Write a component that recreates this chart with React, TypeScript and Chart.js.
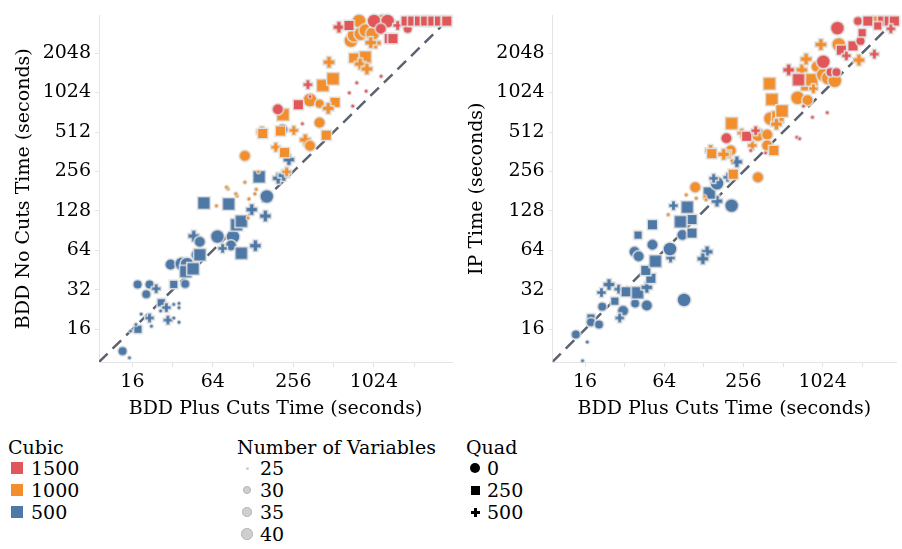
import React, { useEffect, useRef } from 'react';
import { Chart, registerables } from 'chart.js';

Chart.register(...registerables);

const FONT_FAMILY = '"DejaVu Serif", "Liberation Serif", serif';
const TEXT_COLOR = '#000';
const AXIS_COLOR = '#e4e4e4';
const HALO_COLOR = '#e0e0e0';

const CUBIC_LEVELS = [1500, 1000, 500];
const CUBIC_COLORS = ['#E15759', '#F28E2B', '#4E79A7'];
const QUAD_LEVELS = [0, 250, 500];
const VAR_LEVELS = [25, 30, 35, 40];

const X_TICKS = [16, 32, 64, 128, 256, 512, 1024, 2048];
const X_LABELS = [16, 64, 256, 1024];
const Y_TICKS = [16, 32, 64, 128, 256, 512, 1024, 2048];
const TIMEOUT = 3600;

// [cubic, quad, numVars, bddPlusCutsTime, bddNoCutsTime]
const noCutsPoints: number[][] = [
  [500, 0, 30, 13.5, 10.9], [500, 0, 25, 15.2, 9.7], [500, 250, 30, 17.6, 16], [500, 0, 25, 15.5, 15.5],
  [500, 0, 25, 17, 17.4], [500, 500, 30, 21.5, 19.5], [500, 0, 25, 22.2, 16.9], [500, 0, 25, 18.6, 20.9],
  [500, 250, 30, 26.3, 25.5], [500, 500, 30, 28.7, 23.4], [500, 0, 25, 32.6, 24.8], [500, 0, 25, 35.7, 25.2],
  [500, 0, 25, 35.7, 23.4], [500, 0, 25, 26, 22.1], [500, 500, 30, 29.5, 18.8], [500, 0, 25, 32.6, 19.5],
  [500, 0, 25, 35.7, 18.1], [500, 0, 30, 17.5, 35.2], [500, 0, 30, 21.5, 35.2], [500, 500, 30, 24.1, 32.6],
  [500, 0, 30, 20.3, 29.6], [500, 250, 30, 32.6, 35.2], [500, 0, 30, 39.7, 35.5], [500, 0, 35, 30.9, 49.9],
  [500, 0, 40, 37.4, 50.5], [500, 0, 40, 41, 50.2], [500, 250, 40, 40.1, 44.1], [500, 250, 40, 45.5, 46.3],
  [500, 0, 35, 48.3, 59.2], [500, 250, 40, 51.1, 59.2], [500, 500, 35, 46, 82.3], [500, 0, 35, 51.1, 74.4],
  [500, 0, 40, 69.2, 81.6], [500, 0, 40, 90.5, 81.2], [500, 0, 35, 87.4, 69.8], [500, 500, 30, 75.7, 66.3],
  [500, 250, 40, 104.5, 60.8], [500, 500, 35, 133, 69.4], [500, 250, 40, 96.2, 100.4], [500, 250, 40, 104.5, 106.7],
  [500, 500, 35, 125, 131], [500, 500, 35, 158, 117], [500, 0, 40, 162, 165], [500, 250, 40, 54.8, 147],
  [500, 250, 40, 84, 144.5], [500, 250, 40, 142, 233], [500, 500, 35, 197, 227], [500, 500, 35, 217, 239],
  [500, 500, 35, 237, 315], [500, 0, 35, 212, 535],
  [1000, 0, 35, 111, 337], [1000, 500, 35, 149, 512], [1000, 250, 35, 151, 499], [1000, 250, 35, 205, 521],
  [1000, 500, 30, 258, 527], [1000, 250, 40, 214, 695], [1000, 0, 40, 341, 898], [1000, 0, 30, 402, 842],
  [1000, 250, 35, 525, 861], [1000, 500, 35, 467, 776], [1000, 0, 35, 402, 604], [1000, 250, 35, 451, 484],
  [1000, 500, 35, 314, 446], [1000, 0, 35, 341, 402], [1000, 500, 30, 189, 392], [1000, 250, 35, 220, 357],
  [1000, 500, 30, 228, 254], [1000, 250, 40, 425, 1160], [1000, 250, 40, 507, 1305], [1000, 500, 35, 473, 1746],
  [1000, 500, 35, 763, 1871], [1000, 250, 40, 882, 1905], [1000, 250, 35, 724, 1878], [1000, 500, 35, 809, 1693],
  [1000, 500, 35, 909, 1552], [1000, 500, 35, 1051, 2448], [1000, 0, 40, 691, 2548], [1000, 0, 40, 794, 3600],
  [1000, 0, 40, 728, 2797], [1000, 0, 40, 818, 2881], [1000, 0, 40, 891, 3050], [1000, 0, 40, 1001, 2881],
  [1000, 0, 40, 1191, 3600], [1000, 500, 35, 972, 2465], [1000, 250, 35, 2597, 3600],
  [1000, 0, 25, 140, 254], [1000, 0, 25, 111, 212], [1000, 0, 25, 83, 189], [1000, 0, 25, 97, 167],
  [1000, 0, 25, 68, 140], [1000, 0, 25, 81, 194], [1000, 0, 25, 95, 173], [1000, 0, 25, 119, 158],
  [1000, 0, 25, 135, 187], [1000, 0, 25, 132, 173], [1000, 0, 25, 117, 113],
  [1500, 0, 35, 196, 763], [1500, 250, 35, 279, 827], [1500, 500, 30, 329, 1176], [1500, 0, 25, 299, 593],
  [1500, 500, 25, 341, 955], [1500, 0, 25, 712, 808], [1500, 0, 25, 671, 1020], [1500, 0, 25, 763, 1218],
  [1500, 0, 25, 897, 1051], [1500, 0, 25, 1160, 1365], [1500, 500, 35, 561, 3230], [1500, 250, 35, 667, 3327],
  [1500, 0, 40, 1029, 3600], [1500, 0, 40, 1298, 3600], [1500, 0, 35, 1156, 3142], [1500, 250, 35, 1335, 2643],
  [1500, 250, 35, 1423, 2643], [1500, 500, 30, 1544, 3327], [1500, 0, 30, 1836, 3142], [1500, 250, 35, 1783, 3600],
  [1500, 250, 35, 2002, 3600], [1500, 250, 35, 2245, 3600], [1500, 250, 35, 2500, 3600], [1500, 250, 35, 2831, 3600],
  [1500, 250, 35, 3174, 3600], [1500, 250, 35, 3565, 3600], [1500, 250, 35, 3600, 3600],
];

// [cubic, quad, numVars, bddPlusCutsTime, ipTime]
const ipPoints: number[][] = [
  [500, 0, 30, 13.6, 14.6], [500, 0, 25, 16.6, 12.8], [500, 0, 25, 15.3, 9.2], [500, 250, 30, 17.7, 19.5],
  [500, 0, 30, 17.7, 18.1], [500, 0, 30, 20.4, 17.4], [500, 0, 30, 21.6, 23.8], [500, 250, 30, 26.9, 26.2],
  [500, 500, 30, 21.3, 30.5], [500, 500, 35, 24.3, 35.1], [500, 500, 30, 28.8, 32.4], [500, 250, 35, 32.8, 30.9],
  [500, 0, 35, 31.1, 22.1], [500, 0, 30, 38.4, 25.2], [500, 0, 35, 47.1, 24.3], [500, 250, 40, 40.1, 30.4],
  [500, 500, 35, 47.1, 33.4], [500, 250, 35, 50.6, 39.2], [500, 250, 35, 46.3, 45], [500, 250, 40, 54.8, 52.9],
  [500, 500, 30, 71.4, 56], [500, 0, 35, 38, 62.4], [500, 0, 35, 40.8, 57.7], [500, 0, 35, 52, 70.7],
  [500, 0, 40, 70.7, 65.5], [500, 250, 30, 40.4, 83.7], [500, 250, 35, 52, 100.4], [500, 0, 35, 87.9, 84],
  [500, 250, 35, 104, 86.7], [500, 250, 35, 104, 110], [500, 250, 40, 84.9, 105.8], [500, 250, 40, 95.8, 136.7],
  [500, 500, 30, 75.2, 140.3], [500, 500, 35, 135.5, 62.4], [500, 500, 35, 125.8, 55.2], [500, 0, 40, 90.5, 26.8],
  [500, 0, 40, 208, 140.3], [500, 500, 35, 161, 152], [500, 250, 40, 141, 175], [500, 0, 40, 161, 208],
  [500, 500, 30, 152, 227], [500, 500, 30, 194, 231], [500, 500, 35, 228, 303], [500, 500, 30, 29.3, 19.5],
  [1000, 250, 35, 214, 244], [1000, 0, 35, 330, 231], [1000, 0, 35, 110, 194], [1000, 0, 25, 94, 170],
  [1000, 0, 25, 112, 160], [1000, 0, 25, 130, 165], [1000, 0, 25, 133, 156], [1000, 0, 25, 68.6, 120],
  [1000, 0, 25, 209, 311], [1000, 500, 35, 144, 370], [1000, 250, 35, 147, 350], [1000, 0, 35, 205, 370],
  [1000, 250, 30, 192, 346], [1000, 500, 35, 181, 346], [1000, 250, 40, 208, 595], [1000, 500, 30, 249, 503],
  [1000, 0, 40, 330, 489], [1000, 0, 35, 388, 489], [1000, 500, 30, 299, 404], [1000, 0, 35, 388, 404],
  [1000, 250, 35, 436, 370], [1000, 250, 40, 404, 1197], [1000, 250, 40, 421, 907], [1000, 0, 40, 411, 649],
  [1000, 250, 40, 467, 667], [1000, 250, 40, 503, 741], [1000, 500, 35, 456, 588], [1000, 0, 40, 661, 934],
  [1000, 0, 35, 786, 896], [1000, 500, 35, 712, 1525], [1000, 500, 35, 767, 1846], [1000, 250, 40, 776, 1176],
  [1000, 250, 40, 846, 1283], [1000, 500, 30, 872, 1097], [1000, 0, 35, 923, 1615], [1000, 0, 40, 1036, 1399],
  [1000, 0, 40, 1130, 1321], [1000, 0, 40, 1268, 1261], [1000, 500, 35, 994, 2381], [1000, 0, 40, 1359, 2381],
  [1000, 500, 35, 1934, 1814], [1000, 250, 35, 2643, 3600],
  [1500, 0, 35, 190, 459], [1500, 250, 35, 271, 475], [1500, 500, 30, 317, 524], [1500, 0, 25, 291, 370],
  [1500, 0, 25, 377, 356], [1500, 0, 25, 652, 467], [1500, 0, 25, 684, 456], [1500, 0, 25, 733, 808],
  [1500, 0, 25, 857, 664], [1500, 0, 25, 1111, 720], [1500, 250, 40, 672, 1283], [1500, 500, 35, 565, 1525],
  [1500, 0, 40, 1036, 1761], [1500, 0, 30, 1176, 1466], [1500, 0, 30, 1305, 1466], [1500, 0, 40, 1328, 3174],
  [1500, 250, 35, 1423, 2157], [1500, 500, 30, 1552, 1954], [1500, 250, 35, 1743, 2324], [1500, 0, 30, 1988, 2535],
  [1500, 250, 30, 2048, 2932], [1500, 500, 30, 2535, 2013], [1500, 0, 30, 1901, 3600], [1500, 250, 35, 2261, 3600],
  [1500, 250, 35, 2932, 3600], [1500, 250, 35, 3287, 3600], [1500, 250, 35, 3600, 3600], [1500, 250, 30, 2689, 3305],
  [1500, 500, 30, 3385, 3142],
];

const SIZE_PX: Record<number, number> = { 25: 3, 30: 8, 35: 10, 40: 12.5 };

const markerCache = new Map<string, HTMLCanvasElement>();
function marker(color: string, quad: number, vars: number): HTMLCanvasElement {
  const key = color + '|' + quad + '|' + vars;
  const hit = markerCache.get(key);
  if (hit) return hit;
  const d = SIZE_PX[vars];
  const halo = vars === 25 ? 1 : 1.5;
  const size = Math.ceil(d * 1.2 + 2 * halo + 2);
  const c = document.createElement('canvas');
  c.width = size;
  c.height = size;
  const ctx = c.getContext('2d')!;
  const m = size / 2;
  const shape = (ext: number, fill: string) => {
    ctx.fillStyle = fill;
    ctx.beginPath();
    if (quad === 0 || vars === 25) {
      ctx.arc(m, m, d / 2 + ext, 0, Math.PI * 2);
    } else if (quad === 250) {
      const h = (d * 0.9) / 2 + ext;
      ctx.rect(m - h, m - h, 2 * h, 2 * h);
    } else {
      const L = d * 0.52 + ext;
      const t = d * 0.17 + ext;
      ctx.rect(m - L, m - t, 2 * L, 2 * t);
      ctx.rect(m - t, m - L, 2 * t, 2 * L);
    }
    ctx.fill();
  };
  shape(halo, HALO_COLOR);
  shape(0, color);
  markerCache.set(key, c);
  return c;
}

type PanelProps = {
  points: number[][];
  yTitle: string;
  left: number;
  width: number;
  yAxisWidth: number;
  padRight: number;
  xMin: number;
  xMax: number;
  yTitlePad: number;
};

const HEIGHT = 430;
const Y_MIN = 9.0;
const Y_MAX = 3973;

function ScatterPanel(p: PanelProps) {
  const ref = useRef<HTMLCanvasElement>(null);
  useEffect(() => {
    const font = { family: FONT_FAMILY, size: 19 };
    const datasets: any[] = [
      {
        type: 'line',
        data: [{ x: Y_MIN, y: Y_MIN }, { x: TIMEOUT, y: TIMEOUT }],
        borderColor: '#5b6371',
        borderWidth: 2.5,
        borderDash: [12, 7],
        pointRadius: 0,
        order: 10,
      },
    ];
    CUBIC_LEVELS.forEach((cubic, ci) => {
      const pts = p.points.filter((q) => q[0] === cubic);
      datasets.push({
        type: 'scatter',
        data: pts.map((q) => ({ x: q[3], y: q[4] })),
        pointStyle: pts.map((q) => marker(CUBIC_COLORS[ci], q[1], q[2])),
        pointRadius: 5,
        pointHoverRadius: 5,
        clip: false,
        order: ci + 1,
      });
    });
    const chart = new Chart(ref.current!, {
      type: 'scatter',
      data: { datasets },
      options: {
        responsive: false,
        animation: false,
        devicePixelRatio: 1,
        events: [],
        layout: { padding: { top: 10, right: p.padRight, bottom: 0, left: 0 } },
        plugins: { legend: { display: false }, tooltip: { enabled: false } },
        scales: {
          x: {
            type: 'logarithmic',
            min: p.xMin,
            max: p.xMax,
            afterBuildTicks: (s: any) => {
              s.ticks = X_TICKS.map((v) => ({ value: v }));
            },
            afterFit: (s: any) => {
              s.height = 68;
            },
            ticks: {
              autoSkip: false,
              maxRotation: 0,
              padding: 4,
              font,
              color: TEXT_COLOR,
              callback: (v: any) => (X_LABELS.includes(Number(v)) ? String(v) : ''),
            },
            grid: { drawOnChartArea: false, drawTicks: true, tickLength: 5, tickColor: AXIS_COLOR },
            border: { display: true, color: AXIS_COLOR },
            title: {
              display: true,
              text: 'BDD Plus Cuts Time (seconds)',
              font,
              color: TEXT_COLOR,
              padding: { top: 0, bottom: 10 },
            },
          },
          y: {
            type: 'logarithmic',
            min: Y_MIN,
            max: Y_MAX,
            afterBuildTicks: (s: any) => {
              s.ticks = Y_TICKS.map((v) => ({ value: v }));
            },
            afterFit: (s: any) => {
              s.width = p.yAxisWidth;
            },
            ticks: {
              autoSkip: false,
              padding: 4,
              font,
              color: TEXT_COLOR,
              callback: (v: any) => String(v),
            },
            grid: { drawOnChartArea: false, drawTicks: true, tickLength: 4, tickColor: AXIS_COLOR },
            border: { display: true, color: AXIS_COLOR },
            title: {
              display: true,
              text: p.yTitle,
              font,
              color: TEXT_COLOR,
              padding: { top: p.yTitlePad, bottom: 0 },
            },
          },
        },
      } as any,
    });
    return () => chart.destroy();
  }, []);
  return (
    <canvas
      ref={ref}
      width={p.width}
      height={HEIGHT}
      style={{ position: 'absolute', left: p.left, top: 0, width: p.width, height: HEIGHT }}
    />
  );
}

const LEGEND_FONT: React.CSSProperties = {
  fontFamily: FONT_FAMILY,
  fontSize: 19,
  color: TEXT_COLOR,
  position: 'absolute',
  lineHeight: '22px',
  whiteSpace: 'nowrap',
};

const ROW_Y = [447, 468, 490, 512, 534];

function Text({ x, cy, children }: { x: number; cy: number; children: React.ReactNode }) {
  return <div style={{ ...LEGEND_FONT, left: x, top: cy - 11 }}>{children}</div>;
}

function Legend() {
  const varSizes: Record<number, number> = { 25: 3, 30: 8, 35: 9.5, 40: 11.5 };
  return (
    <>
      <Text x={8} cy={ROW_Y[0]}>Cubic</Text>
      {CUBIC_LEVELS.map((c, i) => (
        <React.Fragment key={c}>
          <div
            style={{
              position: 'absolute',
              left: 11,
              top: ROW_Y[i + 1] - 6,
              width: 12,
              height: 12,
              background: CUBIC_COLORS[i],
            }}
          />
          <Text x={31} cy={ROW_Y[i + 1]}>{c}</Text>
        </React.Fragment>
      ))}
      <Text x={237} cy={ROW_Y[0]}>Number of Variables</Text>
      {VAR_LEVELS.map((v, i) => {
        const s = varSizes[v];
        return (
          <React.Fragment key={v}>
            <div
              style={{
                position: 'absolute',
                left: 247 - s / 2,
                top: ROW_Y[i + 1] - s / 2,
                width: s,
                height: s,
                borderRadius: '50%',
                background: '#cfcfcf',
                boxSizing: 'border-box',
                border: v === 25 ? 'none' : '1.5px solid #b4b4b4',
              }}
            />
            <Text x={260} cy={ROW_Y[i + 1]}>{v}</Text>
          </React.Fragment>
        );
      })}
      <Text x={466} cy={ROW_Y[0]}>Quad</Text>
      {QUAD_LEVELS.map((q, i) => {
        const cy = ROW_Y[i + 1];
        const cx = 475;
        let shape: React.ReactNode;
        if (q === 0) {
          shape = (
            <div style={{ position: 'absolute', left: cx - 5, top: cy - 5, width: 10, height: 10, borderRadius: '50%', background: '#000' }} />
          );
        } else if (q === 250) {
          shape = <div style={{ position: 'absolute', left: cx - 4.5, top: cy - 4.5, width: 9, height: 9, background: '#000' }} />;
        } else {
          shape = (
            <>
              <div style={{ position: 'absolute', left: cx - 4.5, top: cy - 1.5, width: 9, height: 3, background: '#000' }} />
              <div style={{ position: 'absolute', left: cx - 1.5, top: cy - 4.5, width: 3, height: 9, background: '#000' }} />
            </>
          );
        }
        return (
          <React.Fragment key={q}>
            {shape}
            <Text x={487} cy={cy}>{q}</Text>
          </React.Fragment>
        );
      })}
    </>
  );
}

export default function App() {
  return (
    <div style={{ position: 'fixed', left: 0, top: 0, width: 902, height: 549, background: '#fff', overflow: 'hidden' }}>
      <ScatterPanel
        points={noCutsPoints}
        yTitle="BDD No Cuts Time (seconds)"
        left={0}
        width={460}
        yAxisWidth={99}
        padRight={8}
        xMin={9.0}
        xMax={3937}
        yTitlePad={13}
      />
      <ScatterPanel
        points={ipPoints}
        yTitle="IP Time (seconds)"
        left={460}
        width={442}
        yAxisWidth={92.7}
        padRight={0}
        xMin={9.07}
        xMax={3704}
        yTitlePad={6}
      />
      <Legend />
    </div>
  );
}
